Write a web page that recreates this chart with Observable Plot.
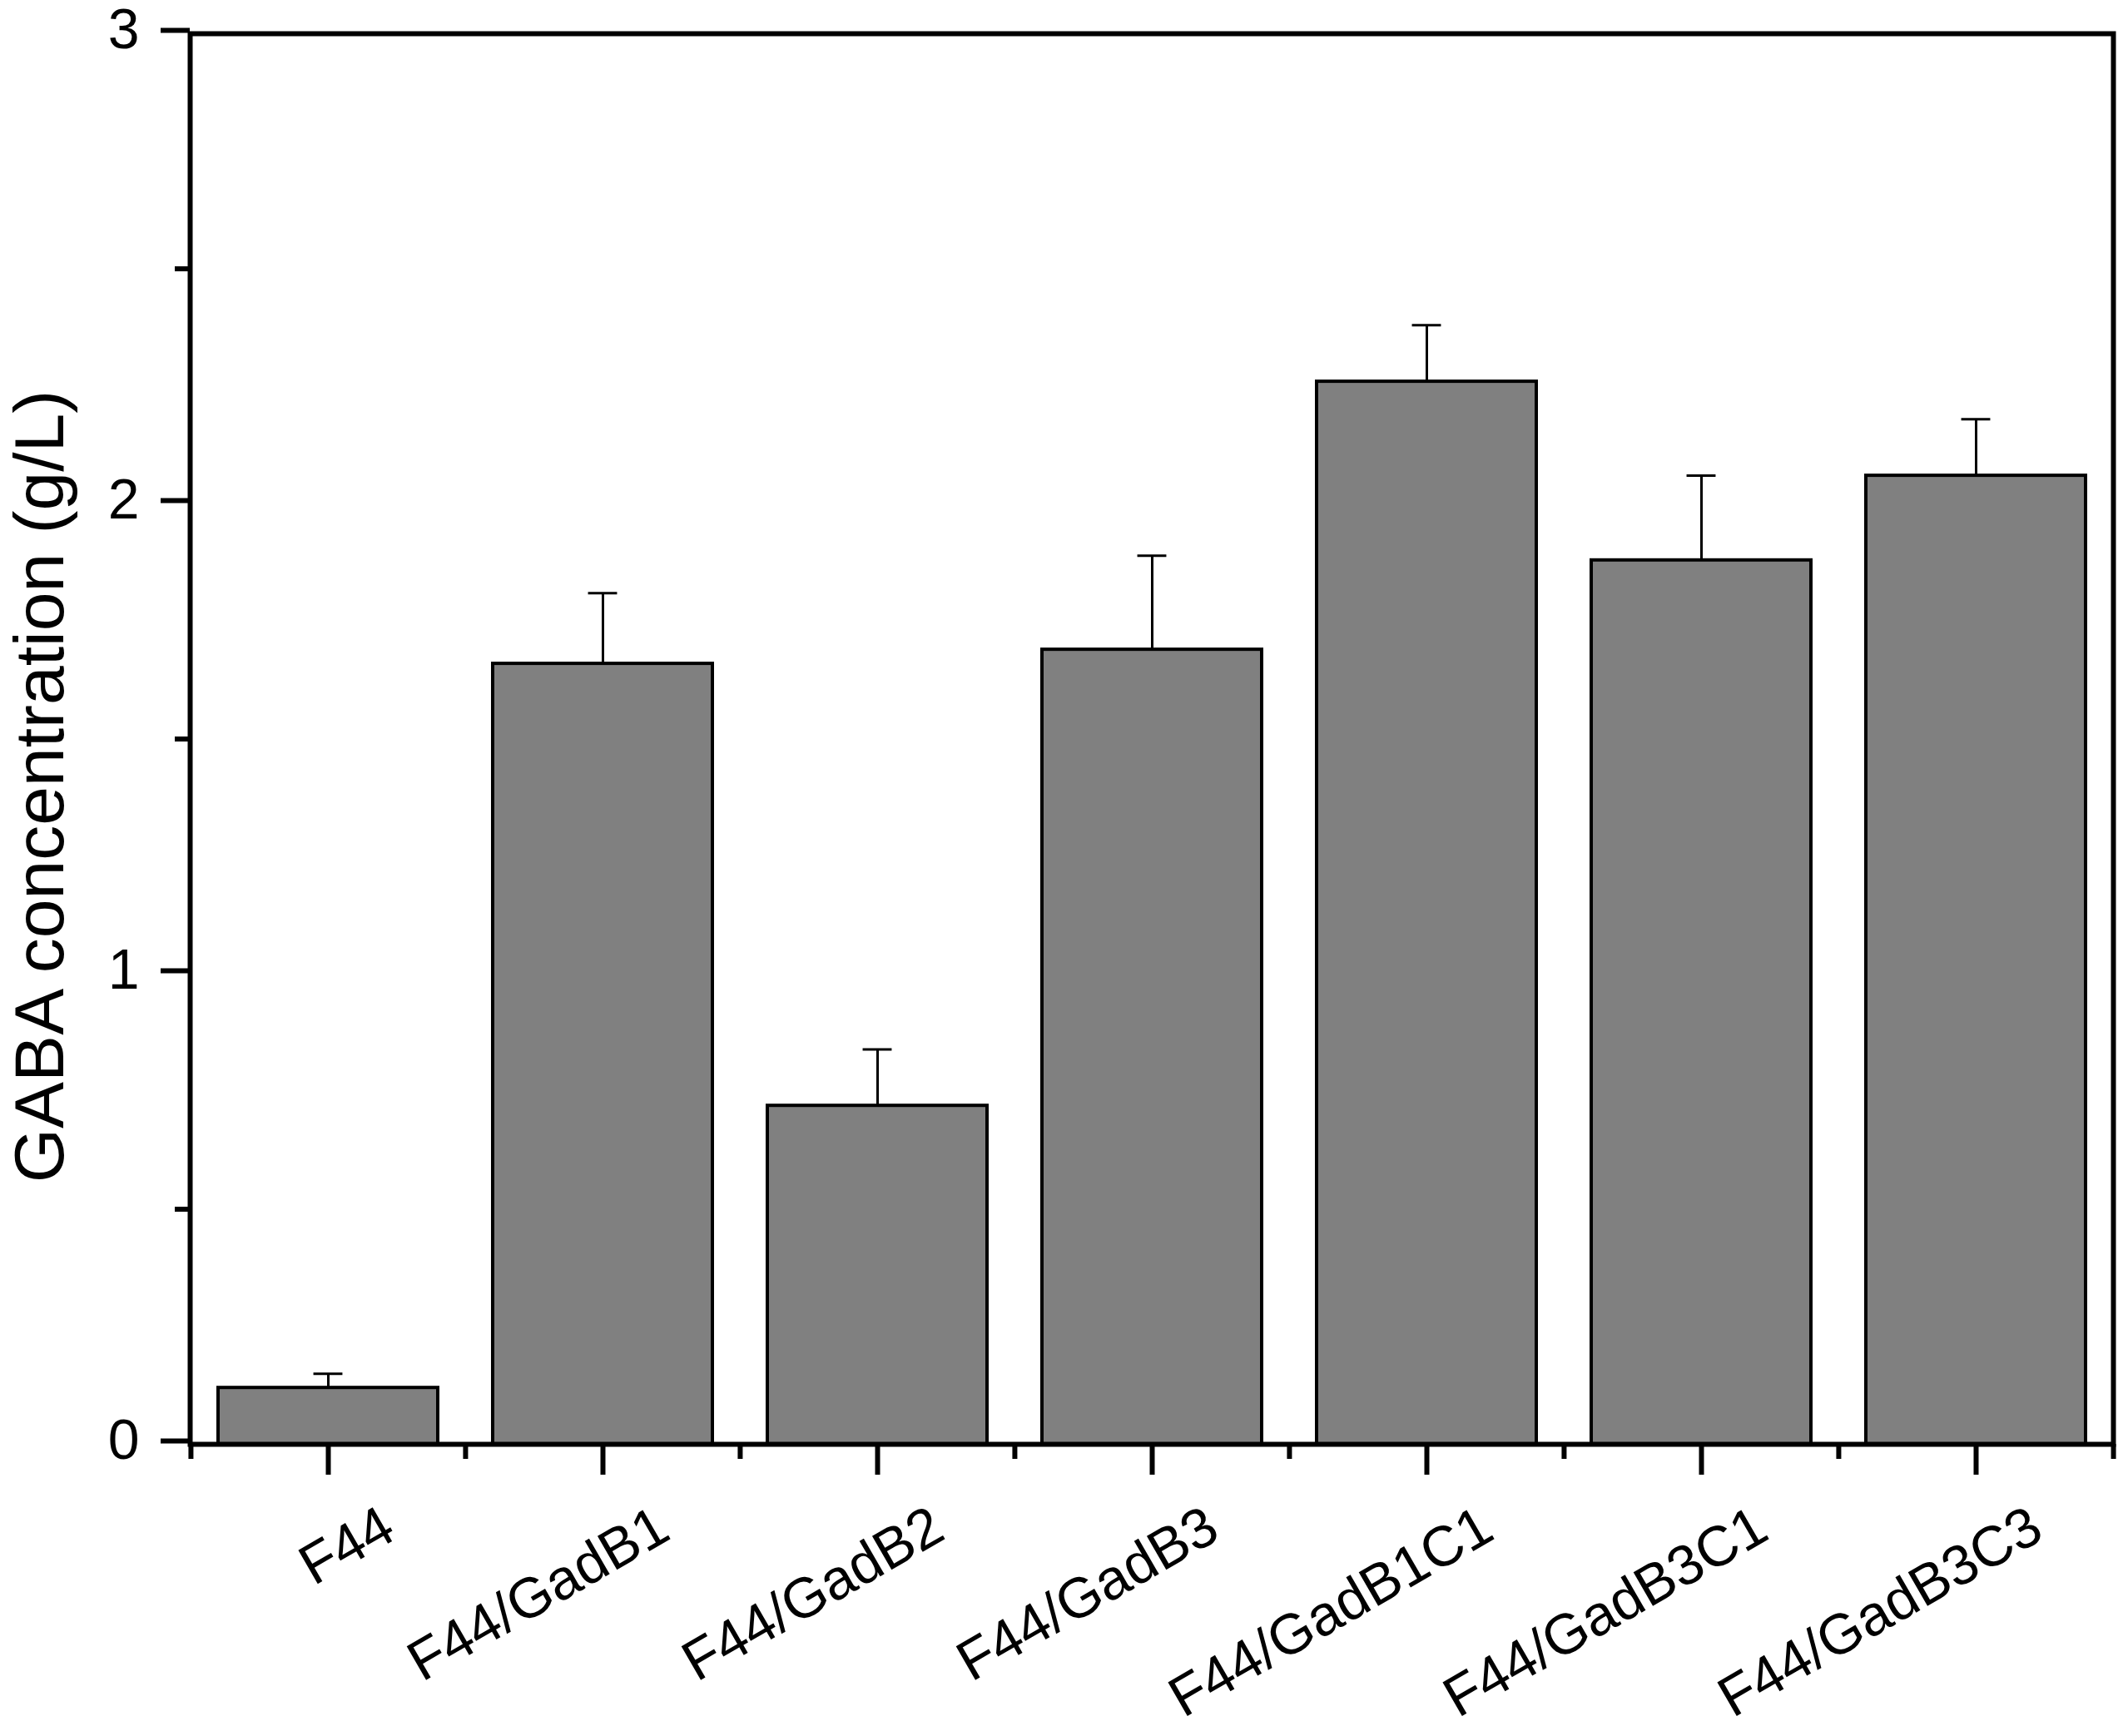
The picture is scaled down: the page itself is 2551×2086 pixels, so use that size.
<!DOCTYPE html>
<html><head><meta charset="utf-8">
<script src="https://cdn.jsdelivr.net/npm/d3@7"></script>
<script src="https://cdn.jsdelivr.net/npm/@observablehq/plot@0.6"></script>
<style>html,body{margin:0;padding:0;background:#fff;}</style>
</head><body><div id="chart"></div>
<script>
const categories = ["F44","F44/GadB1","F44/GadB2","F44/GadB3","F44/GadB1C1","F44/GadB3C1","F44/GadB3C3"];
const values = [0.12, 1.66, 0.72, 1.69, 2.26, 1.88, 2.06];
const errors = [0.03, 0.15, 0.12, 0.20, 0.12, 0.18, 0.12];
const yTicks = [0, 1, 2, 3];
const yMinorTicks = [0.5, 1.5, 2.5];
const yLabel = "GABA concentration (g/L)";

const data = categories.map((c, i) => ({strain: c, value: values[i], err: errors[i]}));

const W = 2551, H = 2086, mL = 228, mR = 12, mT = 40, mB = 351;
const band = (W - mL - mR) / categories.length;
const capW = 35;
const barW = band * 0.8;

const chart = Plot.plot({
  width: W, height: H,
  marginLeft: mL, marginRight: mR, marginTop: mT, marginBottom: mB,
  style: {fontFamily: "'Liberation Sans', Arial, sans-serif", background: "#fff", color: "#000", overflow: "visible"},
  x: {domain: categories, paddingInner: 0.2, paddingOuter: 0.1, axis: null, label: null},
  y: {domain: [0, 3], axis: null, label: null},
  marks: [
    Plot.barY(data, {x: "strain", y: "value", fill: "#808080", stroke: "#000", strokeWidth: 4}),
    Plot.ruleX(data, {x: "strain", y1: "value", y2: d => d.value + d.err, stroke: "#000", strokeWidth: 3}),
    Plot.tickY(data, {x: "strain", y: d => d.value + d.err, stroke: "#000", strokeWidth: 3,
      insetLeft: (barW - capW) / 2, insetRight: (barW - capW) / 2}),
    Plot.axisY(yTicks, {tickSize: 35, tickPadding: 26, fontSize: 68, strokeWidth: 6, tickFormat: d => d, dy: -4, label: null}),
    Plot.axisY(yMinorTicks, {tickSize: 18, strokeWidth: 6, tickFormat: () => "", label: null}),
    Plot.axisX(categories, {tickSize: 37, strokeWidth: 6, tickFormat: () => "", label: null}),
    Plot.axisX(categories, {tickSize: 18, strokeWidth: 6, tickFormat: () => "", dx: -band / 2, label: null}),
    Plot.axisX([categories[categories.length - 1]], {tickSize: 18, strokeWidth: 6, tickFormat: () => "", dx: band / 2, label: null}),
    Plot.text(categories, {x: d => d, frameAnchor: "bottom", rotate: -30, textAnchor: "end", lineAnchor: "bottom",
      fontSize: 68, fill: "#000", dx: 84, dy: 112}),
    Plot.text([yLabel], {frameAnchor: "left", rotate: -90, textAnchor: "middle", lineAnchor: "middle",
      fontSize: 84, fill: "#000", dx: -179, dy: 57}),
    Plot.frame({stroke: "#000", strokeWidth: 6})
  ]
});
document.getElementById("chart").appendChild(chart);
</script>
</body></html>
